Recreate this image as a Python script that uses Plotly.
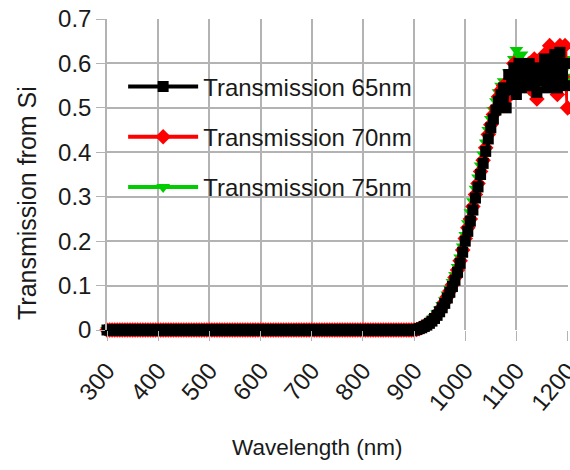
import plotly.graph_objects as go

# Wavelength grid (nm), 5 nm steps
wl_flat = list(range(300, 900, 5))          # 300..895
wl_rise = list(range(900, 1080, 5))         # 900..1075
wl_plat = list(range(1080, 1205, 5))        # 1080..1200
wavelength = wl_flat + wl_rise + wl_plat

# Flat region: transmission reads as zero
flat = [0.0] * len(wl_flat)

rise_65 = [0.0, 0.001, 0.003, 0.005, 0.008, 0.011, 0.015, 0.02, 0.026, 0.033,
           0.041, 0.05, 0.06, 0.072, 0.085, 0.098, 0.112, 0.13, 0.15, 0.175,
           0.2, 0.222, 0.245, 0.27, 0.297, 0.322, 0.35, 0.375, 0.402, 0.43,
           0.455, 0.475, 0.495, 0.515, 0.53, 0.545]
rise_70 = [0.0, 0.001, 0.003, 0.006, 0.009, 0.012, 0.016, 0.021, 0.027, 0.035,
           0.043, 0.052, 0.063, 0.075, 0.088, 0.102, 0.118, 0.135, 0.156, 0.18,
           0.206, 0.23, 0.25, 0.278, 0.305, 0.33, 0.357, 0.382, 0.41, 0.44,
           0.462, 0.485, 0.5, 0.525, 0.54, 0.55]
rise_75 = [0.0, 0.001, 0.003, 0.006, 0.009, 0.013, 0.017, 0.023, 0.029, 0.037,
           0.046, 0.056, 0.067, 0.08, 0.093, 0.108, 0.124, 0.142, 0.163, 0.188,
           0.214, 0.24, 0.265, 0.29, 0.318, 0.343, 0.37, 0.395, 0.422, 0.45,
           0.475, 0.495, 0.515, 0.535, 0.55, 0.56]

plat_65 = [0.50, 0.575, 0.54, 0.59, 0.53, 0.60, 0.545, 0.585, 0.55, 0.60,
           0.55, 0.58, 0.535, 0.59, 0.56, 0.61, 0.545, 0.60, 0.55, 0.62,
           0.545, 0.625, 0.56, 0.60, 0.55]
plat_70 = [0.52, 0.56, 0.55, 0.60, 0.56, 0.595, 0.56, 0.575, 0.58, 0.60,
           0.54, 0.61, 0.52, 0.60, 0.57, 0.62, 0.56, 0.64, 0.55, 0.62,
           0.53, 0.64, 0.57, 0.64, 0.50]
plat_75 = [0.53, 0.58, 0.57, 0.61, 0.63, 0.60, 0.62, 0.58, 0.60, 0.54,
           0.59, 0.57, 0.58, 0.60, 0.55, 0.61, 0.56, 0.60, 0.58, 0.61,
           0.56, 0.60, 0.58, 0.61, 0.57]

t65 = flat + rise_65 + plat_65
t70 = flat + rise_70 + plat_70
t75 = flat + rise_75 + plat_75

# drawn bottom-to-top; legend rank gives 65, 70, 75 order
series = [
    ("Transmission 75nm", t75, "#00cc00", "triangle-down", 12, 3),
    ("Transmission 70nm", t70, "#ff0000", "diamond", 12, 2),
    ("Transmission 65nm", t65, "#000000", "square", 11, 1),
]

FONT = "Liberation Sans, Arial, sans-serif"

fig = go.Figure()
for name, ys, col, sym, sz, rank in series:
    fig.add_trace(go.Scatter(
        x=wavelength, y=ys, name=name, mode="lines+markers",
        line=dict(color=col, width=4),
        marker=dict(symbol=sym, size=sz, color=col),
        cliponaxis=False, legendgroup=f"g{rank}", legendrank=rank,
    ))

fig.update_layout(
    width=570, height=470,
    margin=dict(l=107, r=2, t=19, b=140, autoexpand=False),
    paper_bgcolor="white", plot_bgcolor="white",
    font=dict(family=FONT, size=24, color="#1a1a1a"),
    showlegend=True,
    legend=dict(x=0.035, y=0.854, xanchor="left", yanchor="top",
                bgcolor="rgba(0,0,0,0)", traceorder="grouped",
                tracegroupgap=16, itemwidth=70, font=dict(size=24)),
    xaxis=dict(range=[300, 1200.8], dtick=100, tick0=300, tickangle=-50,
               showgrid=True, gridcolor="#b3b3b3", gridwidth=1.5,
               ticks="outside", ticklen=10, tickcolor="#b3b3b3",
               ticklabelstandoff=6, ticklabeloverflow="allow",
               automargin=False,
               showline=False, zeroline=False,
               tickfont=dict(size=24)),
    yaxis=dict(range=[0, 0.7], dtick=0.1, tick0=0,
               showgrid=True, gridcolor="#b3b3b3", gridwidth=1.5,
               ticks="outside", ticklen=9, tickcolor="#b3b3b3",
               showline=True, linecolor="#b3b3b3", linewidth=1.5,
               automargin=False,
               zeroline=False, tickfont=dict(size=24)),
    annotations=[
        dict(text="Wavelength (nm)", xref="paper", yref="paper",
             x=(317 - 107) / 461, y=-(447 - 330) / 311, showarrow=False,
             xanchor="center", yanchor="middle", font=dict(size=22.5)),
        dict(text="Transmission from Si", xref="paper", yref="paper",
             x=-(107 - 27) / 461, y=(330 - 203) / 311, showarrow=False,
             textangle=-90, xanchor="center", yanchor="middle",
             font=dict(size=25)),
    ],
)

fig.write_html("out.html")
